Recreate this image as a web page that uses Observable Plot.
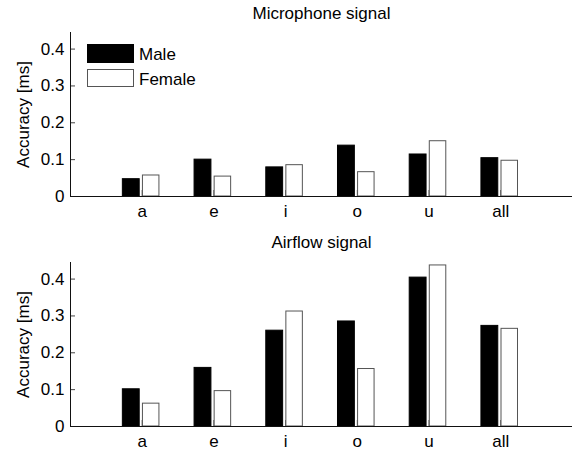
<!DOCTYPE html>
<html>
<head>
<meta charset="utf-8">
<script src="https://cdn.jsdelivr.net/npm/d3@7"></script>
<script src="https://cdn.jsdelivr.net/npm/@observablehq/plot@0.6"></script>
<style>
  html, body { margin: 0; padding: 0; background: #fff; }
  #wrap { position: relative; width: 575px; height: 452px; font-family: "Liberation Sans", Arial, sans-serif; }
  #wrap svg { display: block; }
  .leg { position: absolute; left: 87px; font-size: 17px; color: #000; }
  .sw { position: absolute; box-sizing: border-box; width: 47px; }
  .lt { position: absolute; left: 52px; white-space: nowrap; line-height: 18px; }
</style>
</head>
<body>
<div id="wrap"></div>
<script>
const categories = ["a", "e", "i", "o", "u", "all"];
const series = ["Male", "Female"];
const micMale   = [0.047, 0.100, 0.079, 0.138, 0.114, 0.104];
const micFemale = [0.057, 0.054, 0.085, 0.066, 0.150, 0.097];
const airMale   = [0.101, 0.159, 0.260, 0.285, 0.404, 0.273];
const airFemale = [0.062, 0.096, 0.312, 0.156, 0.437, 0.265];
const yTicks = [0, 0.1, 0.2, 0.3, 0.4];
const titles = ["Microphone signal", "Airflow signal"];
const yLabel = "Accuracy [ms]";

function rows(male, female) {
  const out = [];
  categories.forEach((c, i) => {
    out.push({cat: c, pos: i + 1, value: male[i], sex: "Male"});
    out.push({cat: c, pos: i + 1, value: female[i], sex: "Female"});
  });
  return out;
}

function panel(title, male, female, marginTop, marginBottom, titleDy) {
  const data = rows(male, female);
  const pos = categories.map((c, i) => i + 1);
  return Plot.plot({
    width: 575,
    height: 226,
    marginLeft: 70,
    marginRight: 3,
    marginTop,
    marginBottom,
    style: {fontFamily: "'Liberation Sans', Arial, sans-serif", fontSize: "17px", color: "#000", background: "#fff"},
    x: {domain: [0, 7], axis: null},
    y: {domain: [0, 0.445], axis: null},
    marks: [
      Plot.axisX({ticks: pos, tickSize: -6, tickFormat: () => "", stroke: "#444", label: null}),
      Plot.rectY(data, {
        x1: d => d.pos + (d.sex === "Male" ? -0.27 : 0.01),
        x2: d => d.pos + (d.sex === "Male" ? -0.035 : 0.24),
        y1: 0,
        y2: "value",
        fill: d => d.sex === "Male" ? "#000" : "#fff",
        stroke: d => d.sex === "Male" ? "#000" : "#555",
        strokeWidth: 1
      }),
      Plot.axisX({ticks: pos, tickSize: 0, tickPadding: 8, tickFormat: i => categories[i - 1], fill: "#000", label: null}),
      Plot.axisY({ticks: yTicks, tickSize: -5, tickFormat: () => "", stroke: "#444", label: null}),
      Plot.axisY({ticks: yTicks, tickSize: 0, tickPadding: 6, tickFormat: d => String(d), fill: "#000", label: null}),
      Plot.text([yLabel], {text: d => d, frameAnchor: "left", lineAnchor: "middle", textAnchor: "middle", rotate: -90, dx: -47, fill: "#000", fontSize: 17}),
      Plot.ruleX([0], {stroke: "#111"}),
      Plot.ruleY([0], {stroke: "#111"}),
      Plot.text([title], {text: d => d, frameAnchor: "top", lineAnchor: "middle", dy: titleDy, fill: "#000", fontSize: 17})
    ]
  });
}

const wrap = document.getElementById("wrap");
wrap.appendChild(panel(titles[0], micMale, micFemale, 32, 30, -19));
wrap.appendChild(panel(titles[1], airMale, airFemale, 36, 26, -20));

const leg = document.createElement("div");
leg.className = "leg";
leg.style.top = "44px";
leg.innerHTML =
  `<div class="sw" style="top:0;height:19px;background:#000"></div>` +
  `<div class="lt" style="top:2px">${series[0]}</div>` +
  `<div class="sw" style="top:25px;height:18px;background:#fff;border:1px solid #555"></div>` +
  `<div class="lt" style="top:27px">${series[1]}</div>`;
wrap.appendChild(leg);
</script>
</body>
</html>
